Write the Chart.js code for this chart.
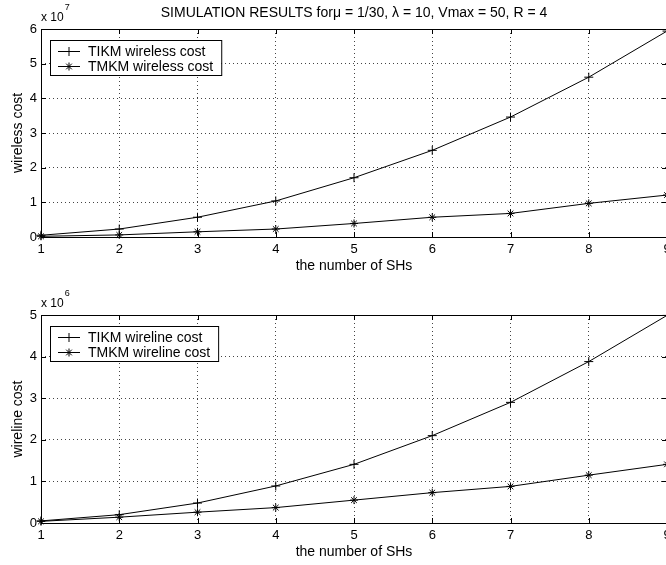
<!DOCTYPE html>
<html>
<head>
<meta charset="utf-8">
<script src="https://cdn.jsdelivr.net/npm/chart.js@4.4.1/dist/chart.umd.min.js"></script>
<style>
  body { margin: 0; width: 666px; height: 565px; overflow: hidden; background: #fff; }
  canvas { position: absolute; left: 0; }
</style>
</head>
<body>
<canvas id="wirelessChart" width="700" height="279" style="top:0"></canvas>
<canvas id="wirelineChart" width="700" height="279" style="top:286px"></canvas>
<script>
// number of SHs on the x axis
const shs = [1, 2, 3, 4, 5, 6, 7, 8, 9];

// wireless cost, x 10^7
const tikmWireless = [0.05e7, 0.23e7, 0.57e7, 1.04e7, 1.71e7, 2.50e7, 3.46e7, 4.61e7, 5.94e7];
const tmkmWireless = [0.02e7, 0.06e7, 0.15e7, 0.23e7, 0.39e7, 0.57e7, 0.68e7, 0.97e7, 1.21e7];

// wireline cost, x 10^6
const tikmWireline = [0.05e6, 0.20e6, 0.48e6, 0.89e6, 1.41e6, 2.10e6, 2.90e6, 3.88e6, 4.99e6];
const tmkmWireline = [0.04e6, 0.14e6, 0.26e6, 0.37e6, 0.55e6, 0.73e6, 0.88e6, 1.15e6, 1.41e6];

const wirelessTicks = [0, 1, 2, 3, 4, 5, 6];
const wirelineTicks = [0, 1, 2, 3, 4, 5];

const chartTitle = 'SIMULATION RESULTS for\u03bc = 1/30, \u03bb = 10, Vmax = 50, R = 4';
const FONT = '"Liberation Sans", Arial, Helvetica, sans-serif';

function toPoints(values) {
    return values.map((v, i) => ({x: shs[i], y: v}));
}

function drawMarker(ctx, style, x, y, r) {
    ctx.beginPath();
    ctx.moveTo(x - r, y); ctx.lineTo(x + r, y);
    ctx.moveTo(x, y - r); ctx.lineTo(x, y + r);
    if (style === 'star') {
        let d = r * 0.7071;
        ctx.moveTo(x - d, y - d); ctx.lineTo(x + d, y + d);
        ctx.moveTo(x - d, y + d); ctx.lineTo(x + d, y - d);
    }
    ctx.stroke();
}

// box, inward ticks, legend inside the axes and the exponent label
const framePlugin = {
    id: 'matlabFrame',
    afterDatasetsDraw(chart, args, opts) {
        const {ctx, chartArea: a, scales: {x, y}} = chart;
        ctx.save();
        ctx.strokeStyle = '#000';
        ctx.fillStyle = '#000';
        ctx.lineWidth = 1;
        ctx.strokeRect(a.left + 0.5, a.top + 0.5, a.right - a.left, a.bottom - a.top);

        ctx.beginPath();
        x.ticks.forEach(t => {
            let px = Math.round(x.getPixelForValue(t.value)) + 0.5;
            ctx.moveTo(px, a.bottom); ctx.lineTo(px, a.bottom - 5);
            ctx.moveTo(px, a.top); ctx.lineTo(px, a.top + 5);
        });
        y.ticks.forEach(t => {
            let py = Math.round(y.getPixelForValue(t.value)) + 0.5;
            ctx.moveTo(a.left, py); ctx.lineTo(a.left + 5, py);
            ctx.moveTo(a.right, py); ctx.lineTo(a.right - 5, py);
        });
        ctx.stroke();

        // legend
        ctx.font = '14px ' + FONT;
        let textW = Math.max(...opts.legend.map(e => ctx.measureText(e.label).width));
        let bx = a.left + 9, by = a.top + 11;
        let bw = 38 + textW + 8, bh = 35;
        ctx.fillStyle = '#fff';
        ctx.fillRect(bx, by, bw, bh);
        ctx.strokeRect(bx + 0.5, by + 0.5, bw, bh);
        ctx.fillStyle = '#000';
        ctx.textBaseline = 'middle';
        ctx.textAlign = 'left';
        opts.legend.forEach((e, i) => {
            let ly = Math.round(a.top + 22 + i * 15) + 0.5;
            ctx.beginPath();
            ctx.moveTo(a.left + 17, ly); ctx.lineTo(a.left + 39, ly);
            ctx.stroke();
            drawMarker(ctx, e.style, a.left + 28, ly, e.style === 'star' ? 4 : 4.5);
            ctx.fillText(e.label, a.left + 47, ly + 1);
        });

        // exponent
        ctx.font = '12px ' + FONT;
        ctx.fillText('x 10', a.left, a.top - 11);
        let w = ctx.measureText('x 10').width;
        ctx.font = '9px ' + FONT;
        ctx.fillText(opts.exponent, a.left + w + 1, a.top - 21);

        if (opts.title) {
            ctx.font = '14px ' + FONT;
            ctx.textAlign = 'center';
            ctx.fillText(opts.title, (a.left + a.right) / 2, 13);
        }
        ctx.restore();
    }
};

function makeChart(id, series, yMax, yTicks, yTitle, exponent, scaleDiv, title) {
    return new Chart(document.getElementById(id), {
        type: 'line',
        data: {
            datasets: series.map(s => ({
                label: s.label,
                data: toPoints(s.values),
                borderColor: '#000',
                backgroundColor: '#000',
                borderWidth: 1,
                pointStyle: s.style,
                pointRadius: s.style === 'star' ? 4 : 4.5,
                pointBorderWidth: 1,
                pointBorderColor: '#000',
                tension: 0,
                clip: false
            }))
        },
        options: {
            responsive: false,
            animation: false,
            events: [],
            layout: {padding: {left: 0, top: 29, right: 33, bottom: 0}},
            plugins: {
                legend: {display: false},
                tooltip: {enabled: false},
                matlabFrame: {
                    legend: series.map(s => ({label: s.label, style: s.style})),
                    exponent: exponent,
                    title: title
                }
            },
            scales: {
                x: {
                    type: 'linear',
                    min: 1,
                    max: 9,
                    afterBuildTicks: s => { s.ticks = shs.map(v => ({value: v})); },
                    afterFit: s => { s.height = 42; },
                    grid: {color: '#444', drawTicks: false},
                    border: {display: false, dash: [1, 3]},
                    ticks: {color: '#000', padding: 5, font: {family: FONT, size: 13}},
                    title: {display: true, text: 'the number of SHs', color: '#000',
                        padding: {top: 0, bottom: 4}, font: {family: FONT, size: 14}}
                },
                y: {
                    min: 0,
                    max: yMax,
                    afterBuildTicks: s => { s.ticks = yTicks.map(v => ({value: v * scaleDiv})); },
                    afterFit: s => { s.width = 41; },
                    grid: {color: '#444', drawTicks: false},
                    border: {display: false, dash: [1, 3]},
                    ticks: {color: '#000', padding: 4, font: {family: FONT, size: 13},
                        callback: v => String(Math.round(v / scaleDiv))},
                    title: {display: true, text: yTitle, color: '#000',
                        padding: {top: 10, bottom: 0}, font: {family: FONT, size: 14}}
                }
            }
        },
        plugins: [framePlugin]
    });
}

makeChart('wirelessChart', [
    {label: 'TIKM wireless cost', values: tikmWireless, style: 'cross'},
    {label: 'TMKM wireless cost', values: tmkmWireless, style: 'star'}
], 6e7, wirelessTicks, 'wireless cost', '7', 1e7, chartTitle);

makeChart('wirelineChart', [
    {label: 'TIKM wireline cost', values: tikmWireline, style: 'cross'},
    {label: 'TMKM wireline cost', values: tmkmWireline, style: 'star'}
], 5e6, wirelineTicks, 'wireline cost', '6', 1e6, null);
</script>
</body>
</html>
